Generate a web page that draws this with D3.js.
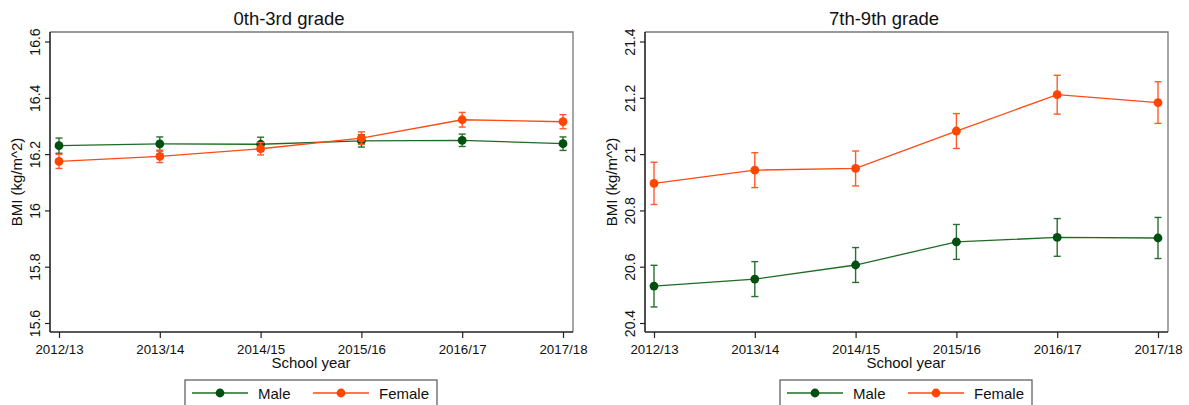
<!DOCTYPE html>
<html>
<head>
<meta charset="utf-8">
<script src="https://cdn.jsdelivr.net/npm/d3@7"></script>
<style>
  body { margin: 0; background: #fff; }
  svg { display: block; font-family: "Liberation Sans", Arial, sans-serif; }
  .axis path, .axis line { stroke: #222; }
  .axis text { fill: #111; }
</style>
</head>
<body>
<svg id="chart" width="1189" height="405"></svg>
<script>
// School years on the x axis
const years = ['2012/13', '2013/14', '2014/15', '2015/16', '2016/17', '2017/18'];
const seriesNames = ['Male', 'Female'];

// 0th-3rd grade: mean BMI and half width of the error bar
const youngMale     = [16.230, 16.236, 16.235, 16.247, 16.249, 16.237];
const youngMaleErr  = [0.027, 0.025, 0.025, 0.022, 0.022, 0.024];
const youngFemale    = [16.174, 16.192, 16.219, 16.257, 16.322, 16.315];
const youngFemaleErr = [0.025, 0.022, 0.022, 0.022, 0.026, 0.025];
const youngTicks = [15.6, 15.8, 16, 16.2, 16.4, 16.6];

// 7th-9th grade
const oldMale     = [20.531, 20.556, 20.606, 20.688, 20.704, 20.702];
const oldMaleErr  = [0.074, 0.062, 0.062, 0.062, 0.067, 0.073];
const oldFemale    = [20.896, 20.943, 20.949, 21.082, 21.211, 21.183];
const oldFemaleErr = [0.075, 0.062, 0.062, 0.062, 0.069, 0.074];
const oldTicks = [20.4, 20.6, 20.8, 21, 21.2, 21.4];

const colors = {
  Male:   { line: '#1f6b25', mark: '#00500f', err: '#2a6f2e' },
  Female: { line: '#ff4a14', mark: '#ff4500', err: '#ff5a2a' }
};

const panels = [
  { title: '0th-3rd grade', left: 0, ticks: youngTicks,
    series: [[youngMale, youngMaleErr], [youngFemale, youngFemaleErr]] },
  { title: '7th-9th grade', left: 595, ticks: oldTicks,
    series: [[oldMale, oldMaleErr], [oldFemale, oldFemaleErr]] }
];

const svg = d3.select('#chart');

panels.forEach(function(p) {
  const g = svg.append('g').attr('transform', `translate(${p.left}, 0)`);
  const frame = { left: 50, right: 573, top: 32, bottom: 332 };

  const x = d3.scalePoint().domain(years).range([59, 563]);
  const y = d3.scaleLinear()
    .domain([p.ticks[0], p.ticks[p.ticks.length - 1]])
    .range([323, 41.5]);

  // light top / right border
  g.append('path')
    .attr('d', `M${frame.left},${frame.top}H${frame.right}V${frame.bottom}`)
    .attr('fill', 'none')
    .attr('stroke', '#777')
    .attr('stroke-width', 1.3);

  // y axis
  const yAxis = g.append('g')
    .attr('class', 'axis')
    .attr('transform', `translate(${frame.left}, 0)`)
    .call(d3.axisLeft(y).tickValues(p.ticks).tickSize(5).tickSizeOuter(0).tickFormat(d => String(d)));
  yAxis.select('.domain')
    .attr('d', `M0,${frame.top}V${frame.bottom}`)
    .attr('stroke-width', 1.6);
  yAxis.selectAll('.tick line').attr('stroke-width', 1.2);
  yAxis.selectAll('.tick text')
    .attr('x', null).attr('dy', null)
    .attr('transform', 'translate(-10, 0) rotate(-90)')
    .style('text-anchor', 'middle')
    .style('font-size', '14px')
    .style('font-family', '"Liberation Sans", Arial, sans-serif');

  // x axis
  const xAxis = g.append('g')
    .attr('class', 'axis')
    .attr('transform', `translate(0, ${frame.bottom})`)
    .call(d3.axisBottom(x).tickSize(6).tickPadding(7).tickSizeOuter(0));
  xAxis.select('.domain')
    .attr('d', `M${frame.left},0H${frame.right}`)
    .attr('stroke-width', 1.6);
  xAxis.selectAll('.tick line').attr('stroke-width', 1.2);
  xAxis.selectAll('.tick text')
    .style('font-size', '13.3px')
    .style('font-family', '"Liberation Sans", Arial, sans-serif');

  // titles
  g.append('text')
    .attr('x', 289).attr('y', 25)
    .attr('text-anchor', 'middle')
    .style('font-size', '18.5px')
    .style('fill', '#111')
    .text(p.title);

  g.append('text')
    .attr('x', 311).attr('y', 368)
    .attr('text-anchor', 'middle')
    .style('font-size', '15px')
    .style('fill', '#111')
    .text('School year');

  g.append('text')
    .attr('transform', 'translate(22, 182) rotate(-90)')
    .attr('text-anchor', 'middle')
    .style('font-size', '15px')
    .style('fill', '#111')
    .text('BMI (kg/m^2)');

  // series
  p.series.forEach(function(s, i) {
    const name = seriesNames[i];
    const c = colors[name];
    const pts = years.map((yr, j) => ({ yr: yr, v: s[0][j], e: s[1][j] }));
    const sg = g.append('g');

    sg.append('path')
      .datum(pts)
      .attr('fill', 'none')
      .attr('stroke', c.line)
      .attr('stroke-width', 1.3)
      .attr('d', d3.line().x(d => x(d.yr)).y(d => y(d.v)));

    const eb = sg.selectAll('.err').data(pts).enter().append('g').attr('class', 'err')
      .attr('stroke', c.err).attr('stroke-width', 1.4);
    eb.append('line')
      .attr('x1', d => x(d.yr)).attr('x2', d => x(d.yr))
      .attr('y1', d => y(d.v - d.e)).attr('y2', d => y(d.v + d.e));
    eb.append('line')
      .attr('x1', d => x(d.yr) - 3.5).attr('x2', d => x(d.yr) + 3.5)
      .attr('y1', d => y(d.v - d.e)).attr('y2', d => y(d.v - d.e));
    eb.append('line')
      .attr('x1', d => x(d.yr) - 3.5).attr('x2', d => x(d.yr) + 3.5)
      .attr('y1', d => y(d.v + d.e)).attr('y2', d => y(d.v + d.e));

    sg.selectAll('.pt').data(pts).enter().append('circle')
      .attr('class', 'pt')
      .attr('cx', d => x(d.yr)).attr('cy', d => y(d.v))
      .attr('r', 4.4)
      .attr('fill', c.mark);
  });

  // legend
  const lg = g.append('g').attr('transform', 'translate(185, 380)');
  lg.append('rect')
    .attr('x', 0).attr('y', 0).attr('width', 252).attr('height', 34)
    .attr('fill', '#fff').attr('stroke', '#555').attr('stroke-width', 1.2);
  seriesNames.forEach(function(name, i) {
    const c = colors[name];
    const ox = 7 + i * 121;
    lg.append('line')
      .attr('x1', ox).attr('x2', ox + 56).attr('y1', 13).attr('y2', 13)
      .attr('stroke', c.line).attr('stroke-width', 1.3);
    lg.append('circle')
      .attr('cx', ox + 28).attr('cy', 13).attr('r', 4.4).attr('fill', c.mark);
    lg.append('text')
      .attr('x', ox + 66).attr('y', 19)
      .style('font-size', '15px')
      .style('fill', '#111')
      .text(name);
  });
});
</script>
</body>
</html>
